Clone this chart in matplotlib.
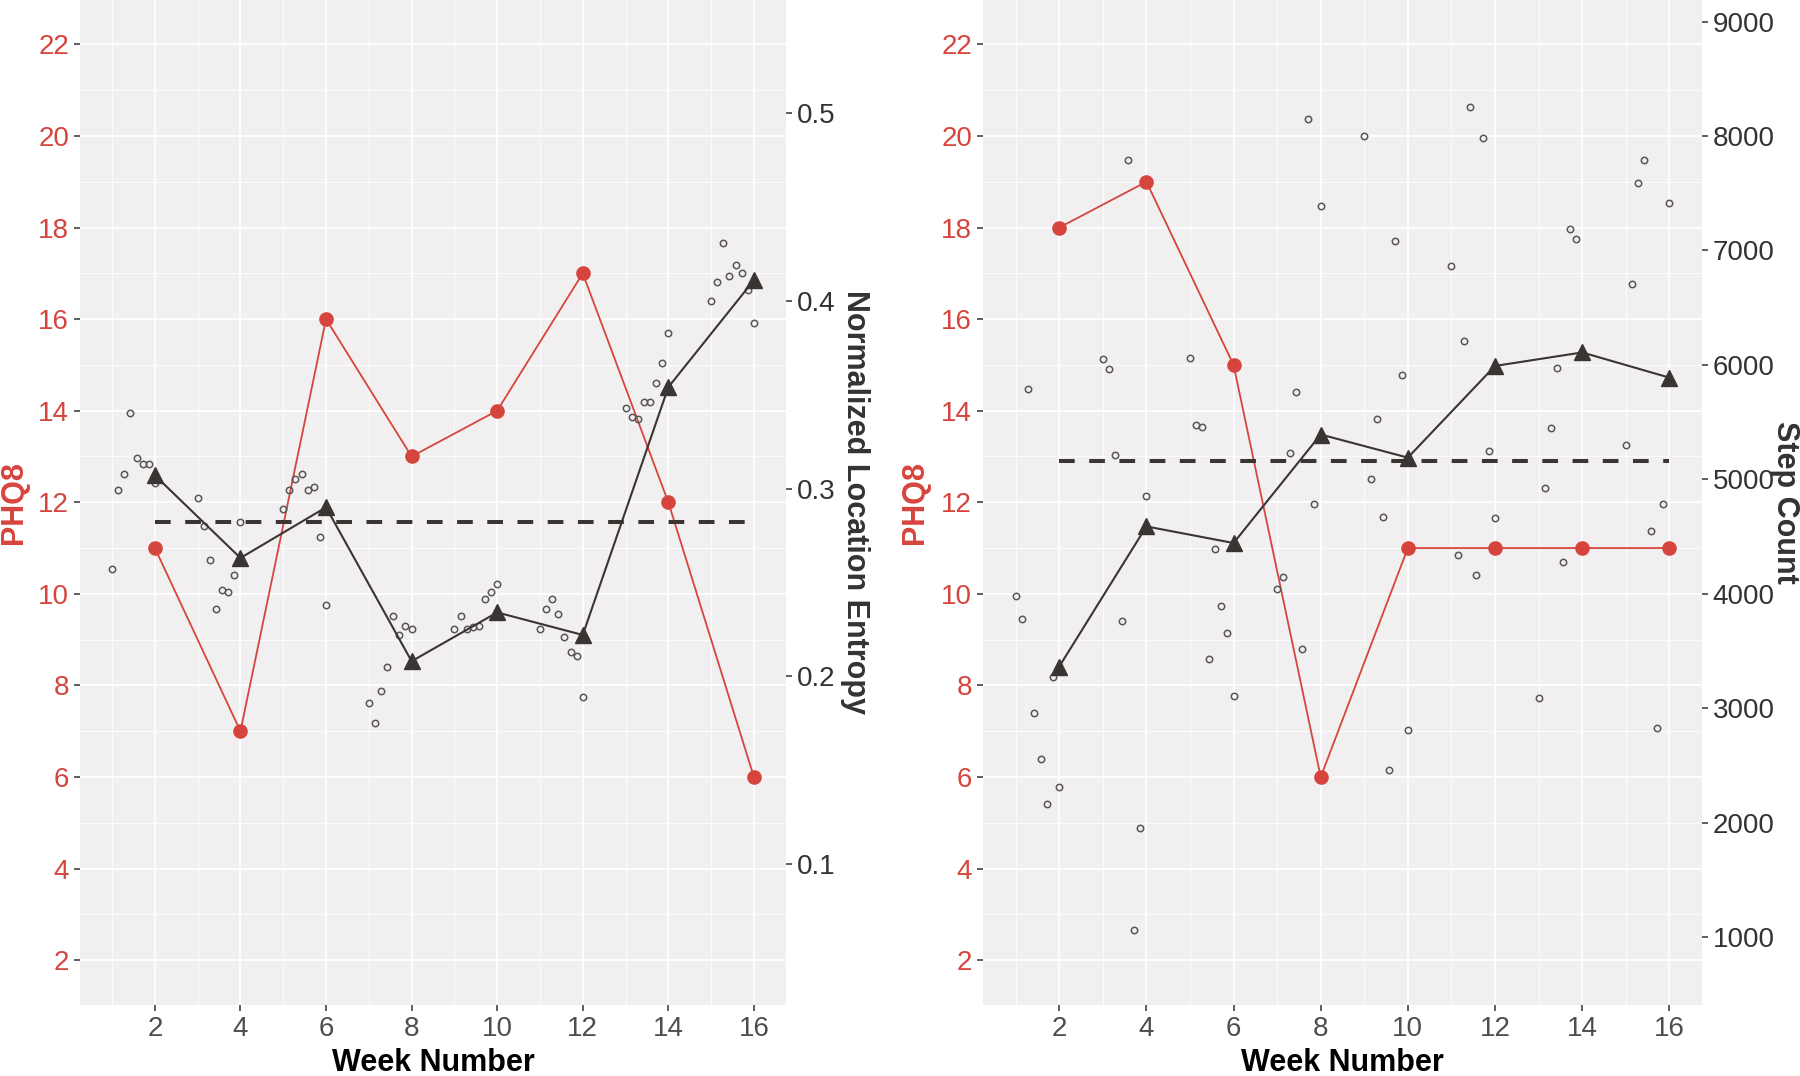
import numpy as np
import matplotlib.pyplot as plt

plt.rcParams['font.family'] = ['Liberation Sans', 'DejaVu Sans']

RED = '#d6453d'
DARK = '#3a3532'

weeks = [2, 4, 6, 8, 10, 12, 14, 16]
block_start = [1, 3, 5, 7, 9, 11, 13, 15]   # daily values: 8 days per two-week block
day_in_block = [0, 1, 2, 3, 4, 5, 6, 7]

# left panel: PHQ8 vs normalized location entropy
phq_left = [11, 7, 16, 13, 14, 17, 12, 6]
entropy_weekly = [0.307, 0.263, 0.290, 0.208, 0.234, 0.222, 0.354, 0.411]
entropy_mean = 0.282
entropy_daily = [
    [0.257, 0.299, 0.308, 0.340, 0.316, 0.313, 0.313, 0.303],
    [0.295, 0.280, 0.262, 0.236, 0.246, 0.245, 0.254, 0.282],
    [0.289, 0.299, 0.305, 0.308, 0.299, 0.301, 0.274, 0.238],
    [0.186, 0.175, 0.192, 0.205, 0.232, 0.222, 0.227, 0.225],
    [0.225, 0.232, 0.225, 0.226, 0.227, 0.241, 0.245, 0.249],
    [0.225, 0.236, 0.241, 0.233, 0.221, 0.213, 0.211, 0.189],
    [0.343, 0.338, 0.337, 0.346, 0.346, 0.356, 0.367, 0.383],
    [0.400, 0.410, 0.431, 0.413, 0.419, 0.415, 0.406, 0.388],
]
entropy_ticks = [0.1, 0.2, 0.3, 0.4, 0.5]

# right panel: PHQ8 vs step count (nan = no reading that day)
phq_right = [18, 19, 15, 6, 11, 11, 11, 11]
steps_weekly = [3365, 4589, 4444, 5392, 5190, 5991, 6109, 5889]
steps_mean = 5160
steps_daily = [
    [3977, 3781, 5792, 2963, 2558, 2161, 3276, 2312],
    [6049, 5962, 5209, 3764, 7793, 1063, 1950, 4858],
    [6061, 5477, 5457, 3433, 4391, 3895, 3655, 3109],
    [4041, 4146, 5232, 5764, 3515, 8146, 4788, 7392],
    [8000, 5000, 5528, 4668, 2464, 7080, 5915, 2810],
    [6868, 4340, 6207, 8257, 4161, 7982, 5247, 4660],
    [3088, 4928, 5453, 5971, 4277, 7191, 7096, np.nan],
    [5299, 6707, 7588, 7787, 4548, 2828, 4789, 7412],
]
steps_ticks = [1000, 2000, 3000, 4000, 5000, 6000, 7000, 8000, 9000]

phq_ticks = [2, 4, 6, 8, 10, 12, 14, 16, 18, 20, 22]
week_ticks = [2, 4, 6, 8, 10, 12, 14, 16]
ylim = (1.02, 22.97)
xlim = (0.25, 16.75)


def panel(fig, rect, phq, sec_weekly, sec_mean, sec_daily, scale,
          sec_ticks, sec_label, sec_label_x, phq_label_x):
    ax = fig.add_axes(rect)
    ax.set_facecolor('#f1eff0')
    for s in ax.spines.values():
        s.set_visible(False)
    ax.set_xlim(*xlim)
    ax.set_ylim(*ylim)
    ax.set_xticks(week_ticks)
    ax.set_xticks(np.arange(1, 17, 2), minor=True)
    ax.set_yticks(phq_ticks)
    ax.set_yticks(np.arange(3, 23, 2), minor=True)
    ax.grid(which='major', color='white', lw=1.3)
    ax.grid(which='minor', color='white', lw=0.6)
    ax.set_axisbelow(True)
    ax.tick_params(axis='both', which='major', length=4.3, width=1.1,
                   color='#333333', labelsize=20, pad=3.5)
    ax.tick_params(axis='both', which='minor', length=0)
    ax.tick_params(axis='y', labelcolor=RED)
    ax.tick_params(axis='x', labelcolor='#4d4d4d')

    ax.plot(weeks, phq, color=RED, lw=1.3, marker='o', ms=9.5, zorder=3)

    ax.set_ylabel('PHQ8', color=RED, fontsize=22, fontweight='bold',
                  va='center', ha='center')
    ax.yaxis.set_label_coords(phq_label_x, 0.5)
    ax.set_xlabel('Week Number', fontsize=22, fontweight='bold',
                  color='black', va='center', ha='center')
    ax.xaxis.set_label_coords(0.5, -0.058)

    ax2 = ax.twinx()
    for s in ax2.spines.values():
        s.set_visible(False)
    ax2.set_ylim(ylim[0] * scale, ylim[1] * scale)
    ax2.set_yticks(sec_ticks)
    ax2.set_yticklabels([str(t) for t in sec_ticks])
    ax2.tick_params(axis='y', length=4.3, width=1.1, color='#333333',
                    labelsize=20, labelcolor='#333333', pad=3.5)
    ax2.tick_params(axis='y', which='minor', length=0)

    for start, vals in zip(block_start, sec_daily):
        xs = [start + d / 7 for d in day_in_block]
        ax2.plot(xs, vals, ls='none', marker='o', ms=4.6, mfc='none',
                 mec='#5a5656', mew=1.1, zorder=2)
    ax2.plot([weeks[0], weeks[-1]], [sec_mean, sec_mean], color=DARK,
             lw=2.9, ls=(0, (3.9, 3.6)), dash_capstyle='butt', zorder=3)
    ax2.plot(weeks, sec_weekly, color=DARK, lw=1.5, marker='^', ms=11,
             zorder=4)

    ax2.set_ylabel(sec_label, rotation=270, fontsize=22, fontweight='bold',
                   color='#333333', va='center', ha='center')
    ax2.yaxis.set_label_coords(sec_label_x, 0.5)
    return ax, ax2


fig = plt.figure(figsize=(18, 10.76), dpi=100)

panel(fig, [80 / 1800, 71 / 1076, 706 / 1800, 1005 / 1076],
      phq_left, entropy_weekly, entropy_mean, entropy_daily, 1 / 41,
      entropy_ticks, 'Normalized Location Entropy', 1.098, -0.094)

panel(fig, [983 / 1800, 71 / 1076, 719 / 1800, 1005 / 1076],
      phq_right, steps_weekly, steps_mean, steps_daily, 400,
      steps_ticks, 'Step Count', 1.116, -0.094)

fig.savefig('out.png', dpi=100)
